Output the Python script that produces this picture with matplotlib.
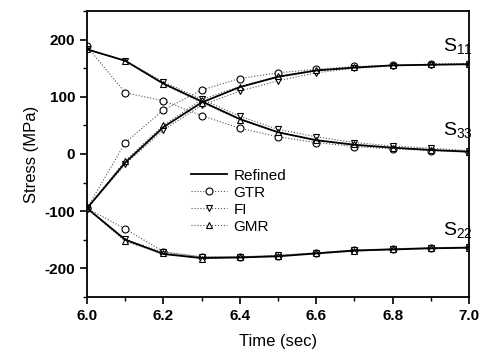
import matplotlib
matplotlib.use("Agg")
import matplotlib.pyplot as plt
from matplotlib.ticker import MultipleLocator

plt.rcParams["font.family"] = ["Liberation Sans", "DejaVu Sans"]
plt.rcParams["axes.unicode_minus"] = False

time = [6.0, 6.1, 6.2, 6.3, 6.4, 6.5, 6.6, 6.7, 6.8, 6.9, 7.0]

# refined solution
ref_s11 = [-95, -15, 47, 90, 117, 135, 146, 151, 155, 156, 157]
ref_s33 = [183, 163, 123, 92, 61, 38, 24, 16, 11, 7, 4]
ref_s22 = [-95, -150, -175, -182, -181, -179, -174, -169, -167, -165, -164]

# GTR
gtr_s11 = [-95, 20, 77, 112, 132, 142, 148, 153, 155, 157, 158]
gtr_s33 = [188, 107, 93, 67, 45, 30, 20, 13, 9, 6, 3]
gtr_s22 = [-95, -131, -171, -180, -180, -178, -173, -168, -166, -164, -163]

# FI
fi_s11 = [-95, -18, 42, 85, 110, 128, 142, 150, 154, 156, 157]
fi_s33 = [183, 163, 126, 96, 66, 43, 30, 20, 14, 10, 6]
fi_s22 = [-95, -149, -172, -180, -180, -177, -173, -168, -166, -164, -163]

# GMR
gmr_s11 = [-95, -12, 50, 95, 118, 136, 147, 152, 155, 157, 158]
gmr_s33 = [183, 163, 122, 90, 60, 38, 25, 17, 11, 7, 4]
gmr_s22 = [-95, -153, -174, -183, -181, -178, -174, -170, -167, -165, -164]

xticks = [6.0, 6.2, 6.4, 6.6, 6.8, 7.0]
yticks = [-200, -100, 0, 100, 200]

fig = plt.figure(figsize=(4.81, 3.56), dpi=100)
ax = fig.add_axes([0.181, 0.166, 0.794, 0.803])

dot = dict(color="#555555", linestyle=":", linewidth=0.8)
mk = dict(markersize=5, markerfacecolor="white", markeredgecolor="black",
          markeredgewidth=0.8)

for ys, lab in [(gtr_s11, "GTR"), (gtr_s33, None), (gtr_s22, None)]:
    ax.plot(time, ys, marker="o", label=lab, **dot, **mk)
for ys, lab in [(fi_s11, "FI"), (fi_s33, None), (fi_s22, None)]:
    ax.plot(time, ys, marker="v", label=lab, **dot, **mk)
for ys, lab in [(gmr_s11, "GMR"), (gmr_s33, None), (gmr_s22, None)]:
    ax.plot(time, ys, marker="^", label=lab, **dot, **mk)
for ys, lab in [(ref_s11, "Refined"), (ref_s33, None), (ref_s22, None)]:
    ax.plot(time, ys, color="black", linewidth=1.3, label=lab, zorder=4)

ax.set_xlim(6.0, 7.0)
ax.set_ylim(-250, 250)
ax.set_xticks(xticks, [f"{t:.1f}" for t in xticks], fontweight="bold", fontsize=11)
ax.set_yticks(yticks, [str(t) for t in yticks], fontweight="bold", fontsize=11)
ax.xaxis.set_minor_locator(MultipleLocator(0.1))
ax.yaxis.set_minor_locator(MultipleLocator(50))
ax.tick_params(which="major", direction="out", length=5, width=1.2,
               top=False, right=False)
ax.tick_params(which="minor", direction="out", length=3, width=1.0,
               top=False, right=False)
for s in ax.spines.values():
    s.set_linewidth(1.3)

ax.set_xlabel("Time (sec)", fontsize=12, labelpad=8)
ax.set_ylabel("Stress (MPa)", fontsize=12)

lab_kw = dict(fontsize=14, va="baseline", ha="left")
ax.text(6.933, 180, r"$\mathregular{S_{11}}$", **lab_kw)
ax.text(6.933, 33, r"$\mathregular{S_{33}}$", **lab_kw)
ax.text(6.933, -142, r"$\mathregular{S_{22}}$", **lab_kw)

handles, labels = ax.get_legend_handles_labels()
order = [labels.index(n) for n in ["Refined", "GTR", "FI", "GMR"]]
ax.legend([handles[i] for i in order], [labels[i] for i in order],
          loc="center left", bbox_to_anchor=(0.235, 0.335), frameon=False,
          fontsize=11, handlelength=2.4, handletextpad=0.4,
          labelspacing=0.2)

fig.savefig("out.png", dpi=100)
